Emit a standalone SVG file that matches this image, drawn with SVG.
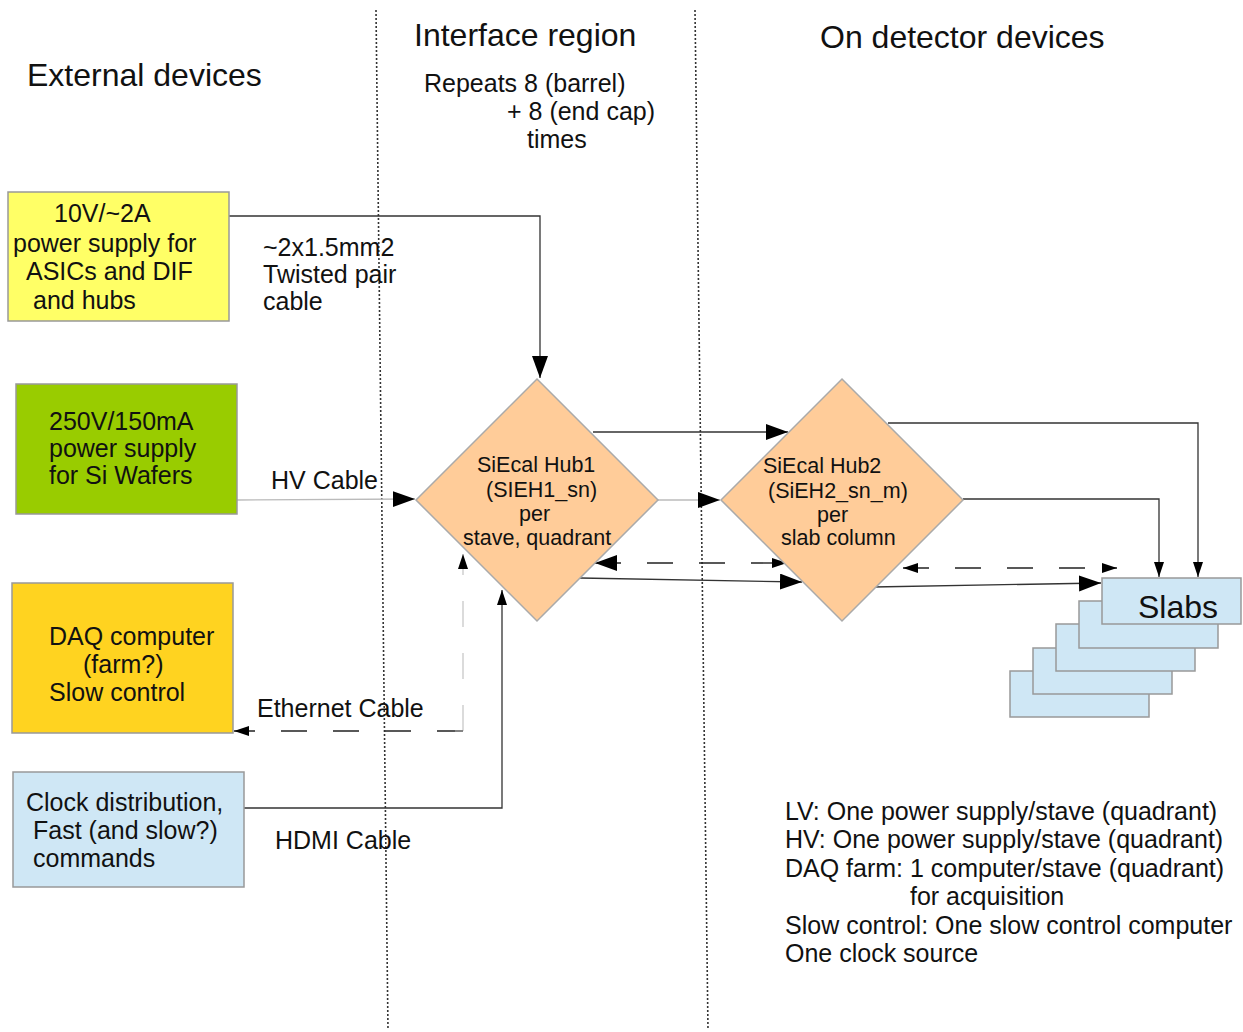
<svg xmlns="http://www.w3.org/2000/svg" width="1243" height="1032" viewBox="0 0 1243 1032">
<defs>
<style>
text{font-family:"Liberation Sans",Arial,sans-serif;fill:#111;}
.h{font-size:32px;}
.t{font-size:25px;}
.hub{font-size:21.5px;}
.box{stroke:#999;stroke-width:1.5;}
.c{fill:none;stroke:#333;stroke-width:1.3;}
.cl{fill:none;stroke:#bbb;stroke-width:1.3;}
.d{fill:none;stroke:#222;stroke-width:1.4;stroke-dasharray:26 26;}
.dl{fill:none;stroke:#ccc;stroke-width:1.4;stroke-dasharray:26 26;}
.div{fill:none;stroke:#333;stroke-width:1.6;stroke-dasharray:2 2;}
</style>
<marker id="big" markerUnits="userSpaceOnUse" markerWidth="24" markerHeight="18" refX="22" refY="8" orient="auto-start-reverse"><path d="M0,0 L22,8 L0,16 z" fill="#000"/></marker>
<marker id="sm" markerUnits="userSpaceOnUse" markerWidth="18" markerHeight="12" refX="15" refY="5" orient="auto-start-reverse"><path d="M0,0 L15,5 L0,10 z" fill="#000"/></marker>
</defs>
<rect width="1243" height="1032" fill="#fff"/>

<g id="dividers">
<line class="div" x1="376" y1="10" x2="388" y2="1030"/>
<line class="div" x1="695" y1="10" x2="708" y2="1030"/>
</g>

<g id="headings">
<text class="h" x="27" y="86">External devices</text>
<text class="h" x="414" y="46">Interface region</text>
<text class="h" x="820" y="48">On detector devices</text>
<text class="t" x="424" y="92">Repeats 8 (barrel)</text>
<text class="t" x="507" y="120">+ 8 (end cap)</text>
<text class="t" x="527" y="148">times</text>
</g>

<g id="connectors">
<polyline class="c" points="229,216 540,216 540,378" marker-end="url(#big)"/>
<line class="cl" x1="237" y1="500" x2="415" y2="499" marker-end="url(#big)"/>
<line class="c" x1="593" y1="432" x2="788" y2="432" marker-end="url(#big)"/>
<line class="cl" x1="658" y1="500" x2="720" y2="500" marker-end="url(#big)"/>
<line class="d" x1="595" y1="563" x2="787" y2="563" marker-start="url(#big)" marker-end="url(#sm)"/>
<line class="c" x1="580" y1="578" x2="802" y2="582" marker-end="url(#big)"/>
<polyline class="c" points="888,423 1198,423 1198,577" marker-end="url(#sm)"/>
<polyline class="c" points="963,499 1159,499 1159,577" marker-end="url(#sm)"/>
<line class="d" x1="903" y1="568" x2="1117" y2="568" marker-start="url(#sm)" marker-end="url(#sm)"/>
<line class="c" x1="873" y1="587" x2="1101" y2="583" marker-end="url(#big)"/>
<polyline class="dl" points="463,731 463,554" marker-end="url(#sm)"/>
<polyline class="d" points="463,731 234,731" marker-end="url(#sm)"/>
<line x1="455" y1="731" x2="463" y2="731" stroke="#999" stroke-width="1.4"/>
<polyline class="c" points="244,808 502,808 502,590" marker-end="url(#sm)"/>
<text class="t" x="263" y="256">~2x1.5mm2</text>
<text class="t" x="263" y="283">Twisted pair</text>
<text class="t" x="263" y="310">cable</text>
<text class="t" x="271" y="489">HV Cable</text>
<text class="t" x="257" y="717">Ethernet Cable</text>
<text class="t" x="275" y="849">HDMI Cable</text>
</g>

<g id="lv-supply">
<rect class="box" x="8" y="192" width="221" height="129" fill="#ffff66"/>
<text class="t" x="54" y="222">10V/~2A</text>
<text class="t" x="13" y="252">power supply for</text>
<text class="t" x="26" y="280">ASICs and DIF</text>
<text class="t" x="33" y="309">and hubs</text>
</g>

<g id="hv-supply">
<rect class="box" x="16" y="384" width="221" height="130" fill="#99cc00"/>
<text class="t" x="49" y="430">250V/150mA</text>
<text class="t" x="49" y="457">power supply</text>
<text class="t" x="49" y="484">for Si Wafers</text>
</g>

<g id="daq">
<rect class="box" x="12" y="583" width="221" height="150" fill="#ffd320"/>
<text class="t" x="49" y="645">DAQ computer</text>
<text class="t" x="83" y="673">(farm?)</text>
<text class="t" x="49" y="701">Slow control</text>
</g>

<g id="clock">
<rect class="box" x="13" y="772" width="231" height="115" fill="#cfe7f5"/>
<text class="t" x="26" y="811">Clock distribution,</text>
<text class="t" x="33" y="839">Fast (and slow?)</text>
<text class="t" x="33" y="867">commands</text>
</g>

<g id="hub1">
<polygon points="537,379 658,500 537,621 416,500" fill="#ffcc99" stroke="#aaa" stroke-width="1.5"/>
<text class="hub" x="477" y="472">SiEcal Hub1</text>
<text class="hub" x="486" y="497">(SIEH1_sn)</text>
<text class="hub" x="519" y="521">per</text>
<text class="hub" x="463" y="545">stave, quadrant</text>
</g>

<g id="hub2">
<polygon points="842,379 963,500 842,621 721,500" fill="#ffcc99" stroke="#aaa" stroke-width="1.5"/>
<text class="hub" x="763" y="473">SiEcal Hub2</text>
<text class="hub" x="768" y="498">(SiEH2_sn_m)</text>
<text class="hub" x="817" y="522">per</text>
<text class="hub" x="781" y="545">slab column</text>
</g>

<g id="slabs">
<rect class="box" x="1010" y="671" width="139" height="46" fill="#cfe7f5"/>
<rect class="box" x="1033" y="648" width="139" height="46" fill="#cfe7f5"/>
<rect class="box" x="1056" y="624" width="139" height="47" fill="#cfe7f5"/>
<rect class="box" x="1079" y="601" width="139" height="47" fill="#cfe7f5"/>
<rect class="box" x="1102" y="578" width="139" height="46" fill="#cfe7f5"/>
<text class="h" x="1138" y="618">Slabs</text>
</g>

<g id="notes">
<text class="t" x="785" y="820">LV: One power supply/stave (quadrant)</text>
<text class="t" x="785" y="848">HV: One power supply/stave (quadrant)</text>
<text class="t" x="785" y="877">DAQ farm: 1 computer/stave (quadrant)</text>
<text class="t" x="910" y="905">for acquisition</text>
<text class="t" x="785" y="934">Slow control: One slow control computer</text>
<text class="t" x="785" y="962">One clock source</text>
</g>
</svg>
